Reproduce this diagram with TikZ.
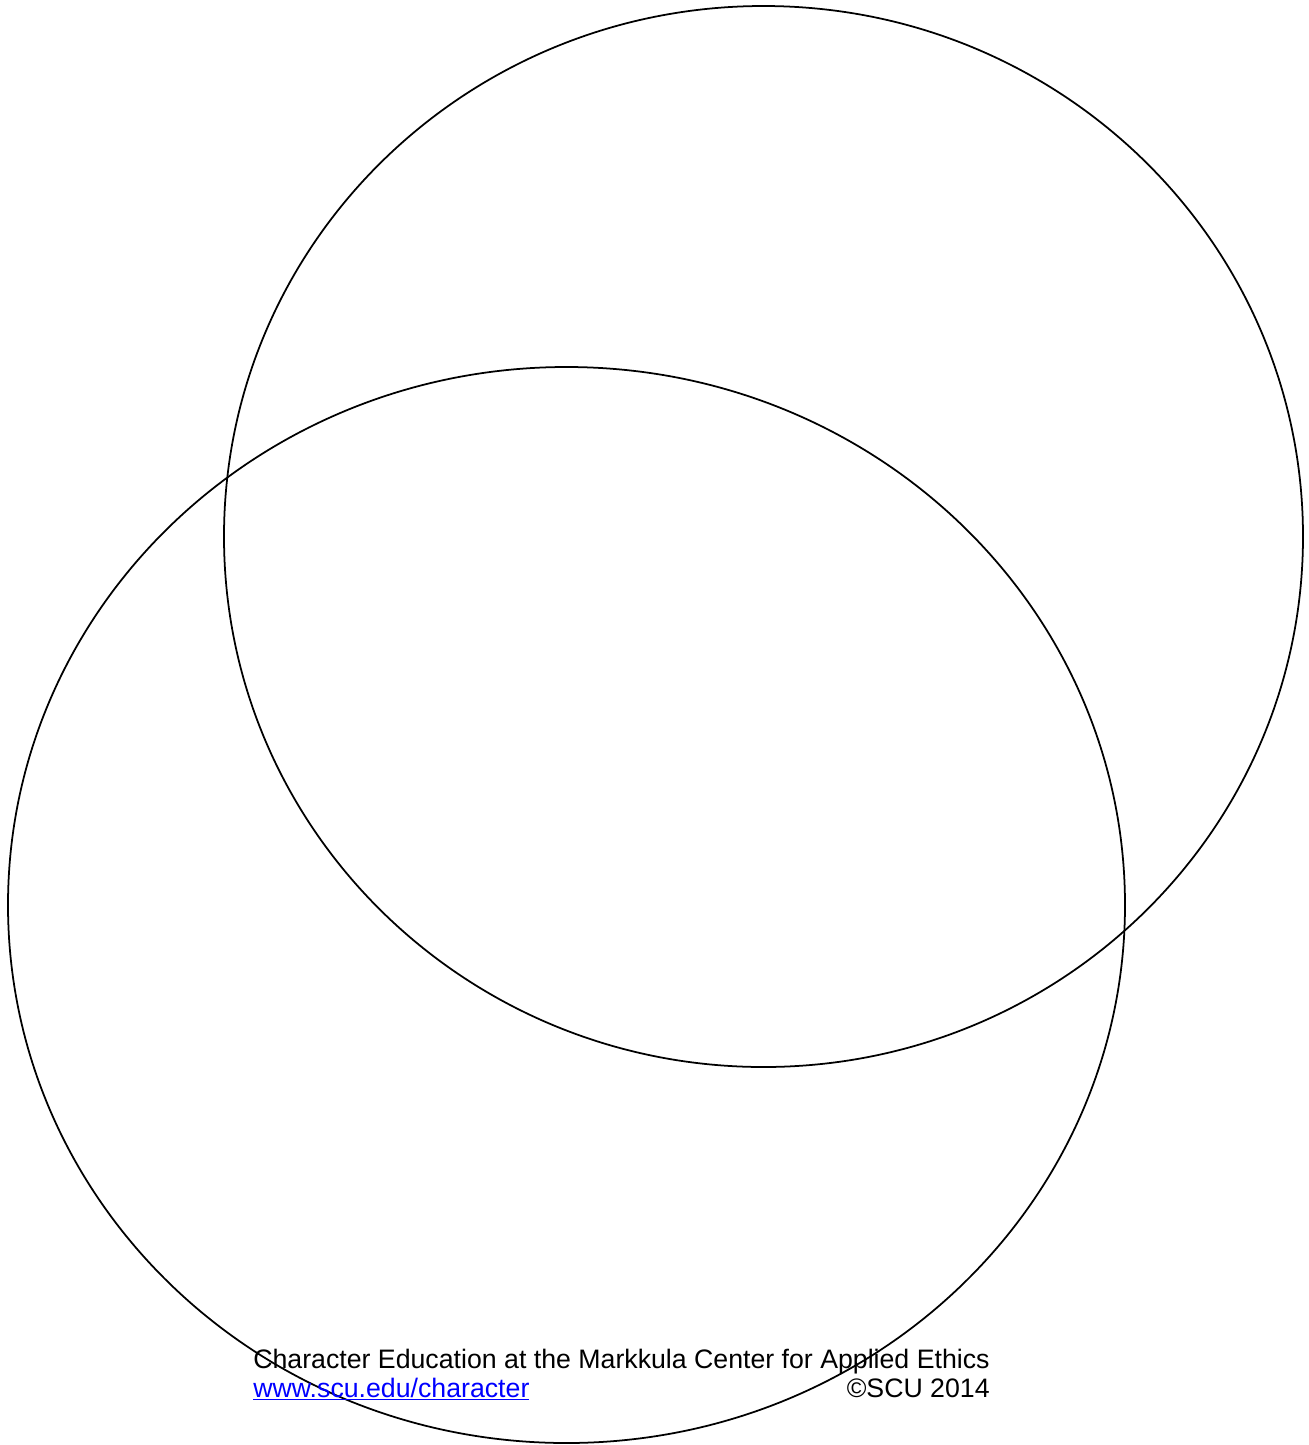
\documentclass[tikz,border=0pt]{standalone}
\usepackage{fontspec}
\setmainfont{Liberation Sans}
\usetikzlibrary{positioning}
\definecolor{linkblue}{RGB}{0,0,255}
\tikzset{ring/.style={draw, line width=1pt},
  credit/.style={inner sep=0pt, font=\fontsize{15.2}{16.4}\selectfont}}

\begin{document}
\begin{tikzpicture}[x=0.02cm, y=-0.02cm]
\useasboundingbox (0,0) rectangle (1309,1445);
% the two overlapping rings
\draw[ring] (763.5,536.5) ellipse [x radius=539.5, y radius=530.5];
\draw[ring] (566.5,905) ellipse [x radius=558.5, y radius=538];
% credit lines
\node[credit, anchor=base west] (title) at (253,1368) {Character Education at the Markkula Center for Applied Ethics};
\node[credit, anchor=base west, text=linkblue] (link) at (253,1397) {\underline{www.scu.edu/character}};
\node[credit, anchor=base east] (copy) at (990,1397) {©SCU 2014};
\end{tikzpicture}
\end{document}
